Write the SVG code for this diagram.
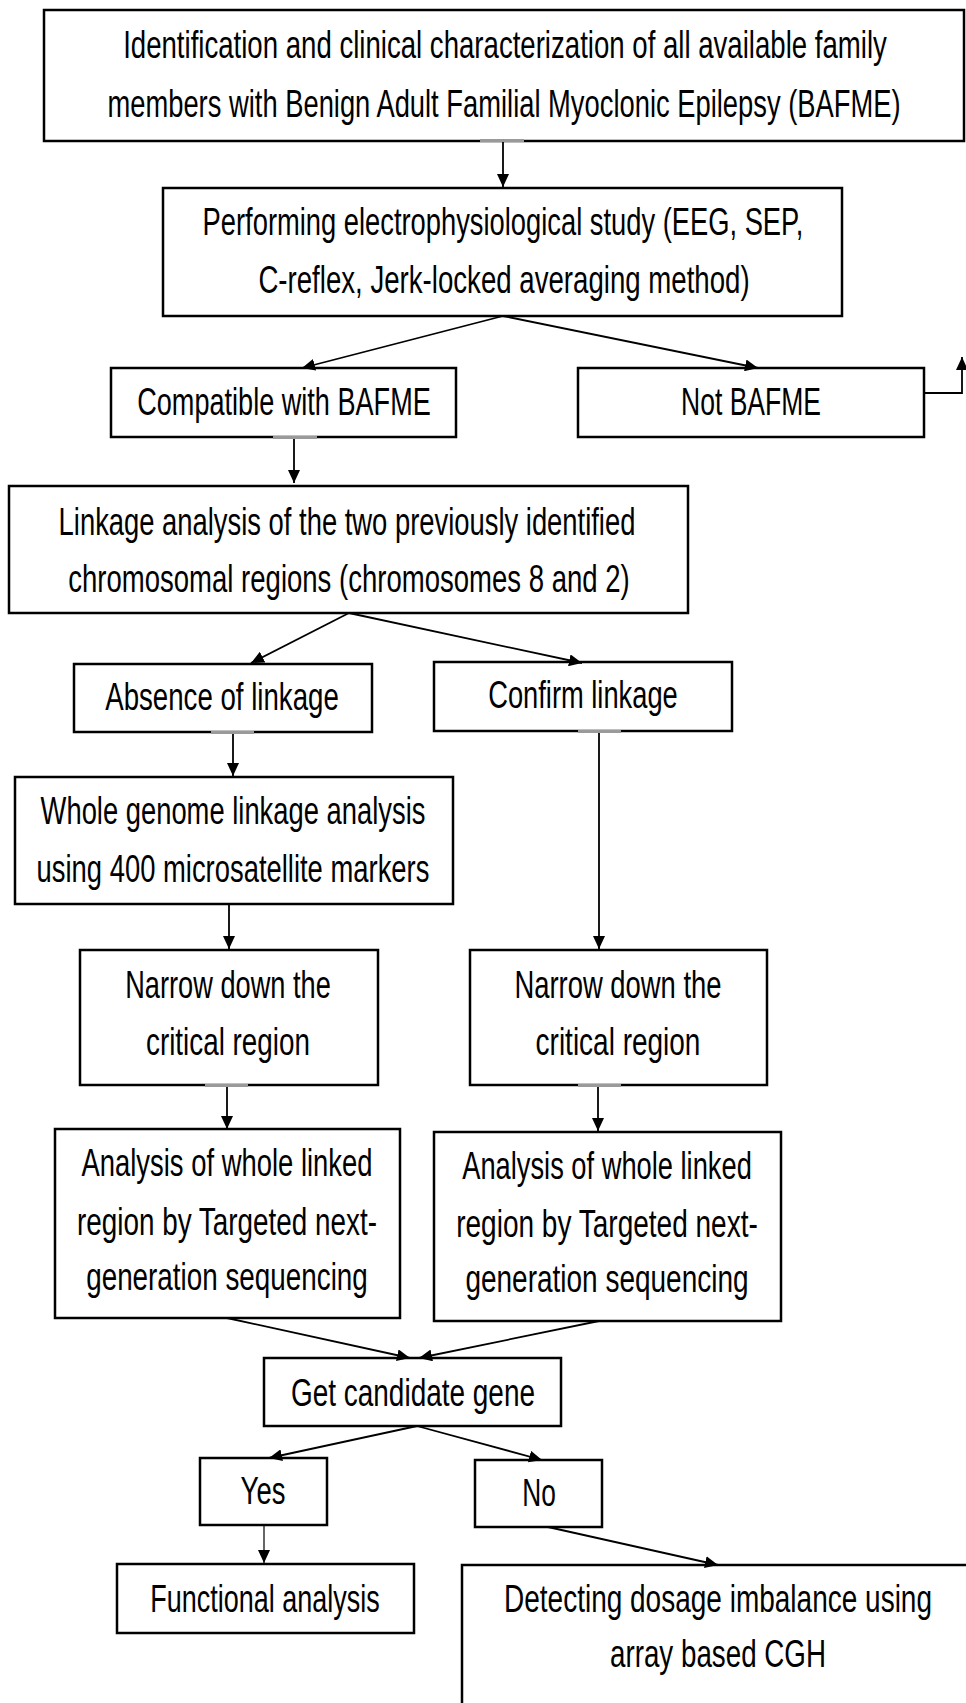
<svg xmlns="http://www.w3.org/2000/svg" width="966" height="1703" viewBox="0 0 966 1703">
<style>
.box{fill:#fff;stroke:#000;stroke-width:2.5}
.t{font-family:"Liberation Sans",Arial,sans-serif;font-size:38px;fill:#000;text-anchor:middle}
.c{fill:none;stroke:#000;stroke-width:1.8}
.g{fill:#9a9a9a}
</style>
<defs>
<marker id="ah" markerUnits="userSpaceOnUse" markerWidth="14" markerHeight="12" refX="13" refY="6" orient="auto">
<path d="M0,0 L13,6 L0,12 z" fill="#000"/>
</marker>
</defs>
<rect width="966" height="1703" fill="#fff"/>

<g id="n1">
<rect class="box" x="44" y="10" width="920" height="131"/>
<text class="t" transform="scale(0.7,1)" x="721.43" y="58" textLength="1091" lengthAdjust="spacingAndGlyphs">Identification and clinical characterization of all available family</text>
<text class="t" transform="scale(0.7,1)" x="720" y="117" textLength="1133" lengthAdjust="spacingAndGlyphs">members with Benign Adult Familial Myoclonic Epilepsy (BAFME)</text>
</g>

<g id="n2">
<rect class="box" x="163" y="188" width="679" height="128"/>
<text class="t" transform="scale(0.8,1)" x="628.75" y="235" textLength="751" lengthAdjust="spacingAndGlyphs">Performing electrophysiological study (EEG, SEP,</text>
<text class="t" transform="scale(0.8,1)" x="630" y="293" textLength="614" lengthAdjust="spacingAndGlyphs">C-reflex, Jerk-locked averaging method)</text>
</g>

<g id="n3">
<rect class="box" x="111" y="368" width="345" height="69"/>
<text class="t" transform="scale(0.8,1)" x="355" y="415" textLength="367" lengthAdjust="spacingAndGlyphs">Compatible with BAFME</text>
</g>

<g id="n4">
<rect class="box" x="578" y="368" width="346" height="69"/>
<text class="t" transform="scale(0.8,1)" x="938.75" y="415" textLength="175" lengthAdjust="spacingAndGlyphs">Not BAFME</text>
</g>

<g id="n5">
<rect class="box" x="9" y="486" width="679" height="127"/>
<text class="t" transform="scale(0.8,1)" x="433.75" y="535" textLength="721" lengthAdjust="spacingAndGlyphs">Linkage analysis of the two previously identified</text>
<text class="t" transform="scale(0.8,1)" x="436.25" y="592" textLength="702" lengthAdjust="spacingAndGlyphs">chromosomal regions (chromosomes 8 and 2)</text>
</g>

<g id="n6">
<rect class="box" x="74" y="664" width="298" height="68"/>
<text class="t" transform="scale(0.8,1)" x="277.5" y="710" textLength="292" lengthAdjust="spacingAndGlyphs">Absence of linkage</text>
</g>

<g id="n7">
<rect class="box" x="434" y="662" width="298" height="69"/>
<text class="t" transform="scale(0.8,1)" x="728.75" y="708" textLength="237" lengthAdjust="spacingAndGlyphs">Confirm linkage</text>
</g>

<g id="n8">
<rect class="box" x="15" y="777" width="438" height="127"/>
<text class="t" transform="scale(0.8,1)" x="291.25" y="824" textLength="481" lengthAdjust="spacingAndGlyphs">Whole genome linkage analysis</text>
<text class="t" transform="scale(0.8,1)" x="291.25" y="882" textLength="491" lengthAdjust="spacingAndGlyphs">using 400 microsatellite markers</text>
</g>

<g id="n9">
<rect class="box" x="80" y="950" width="298" height="135"/>
<text class="t" transform="scale(0.8,1)" x="285" y="998" textLength="257" lengthAdjust="spacingAndGlyphs">Narrow down the</text>
<text class="t" transform="scale(0.8,1)" x="285" y="1055" textLength="205" lengthAdjust="spacingAndGlyphs">critical region</text>
</g>

<g id="n10">
<rect class="box" x="470" y="950" width="297" height="135"/>
<text class="t" transform="scale(0.8,1)" x="772.5" y="998" textLength="259" lengthAdjust="spacingAndGlyphs">Narrow down the</text>
<text class="t" transform="scale(0.8,1)" x="772.5" y="1055" textLength="206" lengthAdjust="spacingAndGlyphs">critical region</text>
</g>

<g id="n11">
<rect class="box" x="55" y="1129" width="345" height="189"/>
<text class="t" transform="scale(0.8,1)" x="283.75" y="1176" textLength="364" lengthAdjust="spacingAndGlyphs">Analysis of whole linked</text>
<text class="t" transform="scale(0.8,1)" x="283.75" y="1235" textLength="375" lengthAdjust="spacingAndGlyphs">region by Targeted next-</text>
<text class="t" transform="scale(0.8,1)" x="283.75" y="1290" textLength="352" lengthAdjust="spacingAndGlyphs">generation sequencing</text>
</g>

<g id="n12">
<rect class="box" x="434" y="1132" width="347" height="189"/>
<text class="t" transform="scale(0.8,1)" x="758.75" y="1179" textLength="362" lengthAdjust="spacingAndGlyphs">Analysis of whole linked</text>
<text class="t" transform="scale(0.8,1)" x="758.75" y="1237" textLength="377" lengthAdjust="spacingAndGlyphs">region by Targeted next-</text>
<text class="t" transform="scale(0.8,1)" x="758.75" y="1292" textLength="354" lengthAdjust="spacingAndGlyphs">generation sequencing</text>
</g>

<g id="n13">
<rect class="box" x="264" y="1358" width="297" height="68"/>
<text class="t" transform="scale(0.8,1)" x="516.25" y="1406" textLength="305" lengthAdjust="spacingAndGlyphs">Get candidate gene</text>
</g>

<g id="n14">
<rect class="box" x="200" y="1458" width="127" height="67"/>
<text class="t" transform="scale(0.8,1)" x="328.75" y="1504" textLength="56" lengthAdjust="spacingAndGlyphs">Yes</text>
</g>

<g id="n15">
<rect class="box" x="475" y="1460" width="127" height="67"/>
<text class="t" transform="scale(0.8,1)" x="673.75" y="1506" textLength="42" lengthAdjust="spacingAndGlyphs">No</text>
</g>

<g id="n16">
<rect class="box" x="117" y="1564" width="297" height="69"/>
<text class="t" transform="scale(0.8,1)" x="331.25" y="1612" textLength="287" lengthAdjust="spacingAndGlyphs">Functional analysis</text>
</g>

<g id="n17">
<rect class="box" x="462" y="1565" width="530" height="180"/>
<text class="t" transform="scale(0.8,1)" x="897.5" y="1612" textLength="535" lengthAdjust="spacingAndGlyphs">Detecting dosage imbalance using</text>
<text class="t" transform="scale(0.8,1)" x="897.5" y="1667" textLength="270" lengthAdjust="spacingAndGlyphs">array based CGH</text>
</g>

<g id="connectors">
<path class="c" d="M503,141 V187" marker-end="url(#ah)"/>
<path class="c" d="M503,316 L302,368" marker-end="url(#ah)"/>
<path class="c" d="M503,316 L758,368" marker-end="url(#ah)"/>
<path class="c" d="M924,393 H962 V357" marker-end="url(#ah)"/>
<path class="c" d="M294,437 V483" marker-end="url(#ah)"/>
<path class="c" d="M349,613 L251,663" marker-end="url(#ah)"/>
<path class="c" d="M349,613 L582,663" marker-end="url(#ah)"/>
<path class="c" d="M233,732 V776" marker-end="url(#ah)"/>
<path class="c" d="M229,904 V949" marker-end="url(#ah)"/>
<path class="c" d="M599,731 V949" marker-end="url(#ah)"/>
<path class="c" d="M227,1085 V1129" marker-end="url(#ah)"/>
<path class="c" d="M598,1085 V1131" marker-end="url(#ah)"/>
<path class="c" d="M227,1318 L410,1358" marker-end="url(#ah)"/>
<path class="c" d="M599,1321 L419,1358" marker-end="url(#ah)"/>
<path class="c" d="M417,1426 L269,1458" marker-end="url(#ah)"/>
<path class="c" d="M417,1426 L542,1460" marker-end="url(#ah)"/>
<path class="c" style="stroke-width:1.2" d="M264,1525 V1563" marker-end="url(#ah)"/>
<path class="c" d="M548,1527 L718,1565" marker-end="url(#ah)"/>
<rect class="g" x="480" y="139" width="44" height="3"/>
<rect class="g" x="273" y="436" width="44" height="3"/>
<rect class="g" x="211" y="731" width="43" height="3"/>
<rect class="g" x="578" y="730" width="43" height="3"/>
<rect class="g" x="205" y="1084" width="43" height="3"/>
<rect class="g" x="578" y="1084" width="43" height="3"/>
</g>
</svg>
